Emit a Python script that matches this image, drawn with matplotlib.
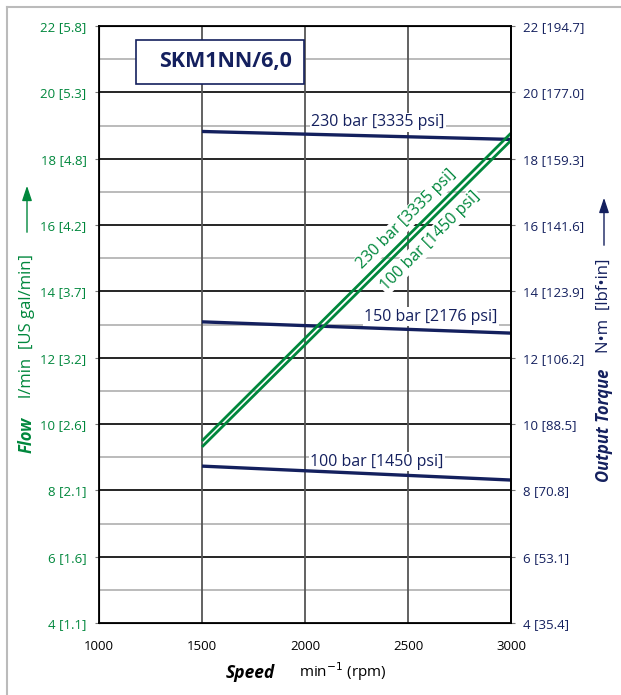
import numpy as np
import matplotlib.pyplot as plt
from matplotlib.patches import Rectangle
from matplotlib.lines import Line2D

plt.rcParams['font.family'] = ['Open Sans', 'DejaVu Sans']

GREEN = '#00873c'
NAVY = '#14205e'

# data
speed = [1500, 3000]
flow_230 = [9.49, 18.77]
flow_100 = [9.31, 18.55]
torque_230 = [18.82, 18.58]
torque_150 = [13.08, 12.74]
torque_100 = [8.73, 8.31]

left_ticks = [4, 6, 8, 10, 12, 14, 16, 18, 20, 22]
left_labels = ['4 [1.1]', '6 [1.6]', '8 [2.1]', '10 [2.6]', '12 [3.2]', '14 [3.7]',
               '16 [4.2]', '18 [4.8]', '20 [5.3]', '22 [5.8]']
right_labels = ['4 [35.4]', '6 [53.1]', '8 [70.8]', '10 [88.5]', '12 [106.2]', '14 [123.9]',
                '16 [141.6]', '18 [159.3]', '20 [177.0]', '22 [194.7]']
x_ticks = [1000, 1500, 2000, 2500, 3000]

fig = plt.figure(figsize=(6.21, 6.95), dpi=100)
ax = fig.add_axes([99/621, 1-623/695, 412/621, 597/695])
ax.set_xlim(1000, 3000)
ax.set_ylim(4, 22)

# grid
for y in range(5, 22, 2):
    ax.axhline(y, color='#b5b5b5', lw=1.3, zorder=1)
for y in range(6, 22, 2):
    ax.axhline(y, color='black', lw=1.2, zorder=1)
for x in [1500, 2000, 2500]:
    ax.axvline(x, color='#555555', lw=1.3, zorder=1)

for s in ax.spines.values():
    s.set_linewidth(1.3)
    s.set_zorder(6)

ax.set_xticks(x_ticks)
ax.set_xticklabels([str(x) for x in x_ticks], fontsize=9.5)
ax.tick_params(axis='x', length=0, pad=12)
ax.set_yticks(left_ticks)
ax.set_yticklabels(left_labels, fontsize=9.5, color=GREEN)
ax.tick_params(axis='y', length=3, color='#777777', pad=6)

ax2 = ax.twinx()
ax2.set_ylim(4, 22)
ax2.set_yticks(left_ticks)
ax2.set_yticklabels(right_labels, fontsize=9.5, color=NAVY)
ax2.tick_params(axis='y', length=3, color='#777777', pad=6)
ax2.spines['right'].set_linewidth(1.3)

# lines
ax.plot(speed, flow_230, color=GREEN, lw=2, zorder=5, solid_capstyle='butt')
ax.plot(speed, flow_100, color=GREEN, lw=2, zorder=5, solid_capstyle='butt')
ax.plot(speed, torque_230, color=NAVY, lw=2.4, zorder=4, solid_capstyle='butt')
ax.plot(speed, torque_150, color=NAVY, lw=2.4, zorder=4, solid_capstyle='butt')
ax.plot(speed, torque_100, color=NAVY, lw=2.4, zorder=4, solid_capstyle='butt')

box = dict(facecolor='white', edgecolor='none', pad=1)
ax.text(2354, 19.1, '230 bar [3335 psi]', color=NAVY, fontsize=11.5, ha='center', va='center', bbox=box, zorder=3)
ax.text(2612, 13.23, '150 bar [2176 psi]', color=NAVY, fontsize=11.5, ha='center', va='center', bbox=box, zorder=3)
ax.text(2350, 8.86, '100 bar [1450 psi]', color=NAVY, fontsize=11.5, ha='center', va='center', bbox=box, zorder=3)
ax.text(2495, 16.18, '230 bar [3335 psi]', color=GREEN, fontsize=11.5, ha='center', va='center',
        rotation=45, rotation_mode='anchor', bbox=box, zorder=3)
ax.text(2607, 15.52, '100 bar [1450 psi]', color=GREEN, fontsize=11.5, ha='center', va='center',
        rotation=45, rotation_mode='anchor', bbox=box, zorder=3)

# title box
ax.add_patch(Rectangle((1180, 20.25), 815, 1.33, facecolor='white', edgecolor=NAVY, lw=1.2, zorder=3))
ax.text(1612, 20.93, 'SKM1NN/6,0', color=NAVY, fontsize=15.5, fontweight='bold', ha='center', va='center', zorder=4)

# axis titles
fig.text(27/621, 1-435/695, 'Flow', color=GREEN, fontsize=12, fontweight='bold', style='italic',
         rotation=90, ha='center', va='center')
fig.text(27/621, 1-326/695, 'l/min  [US gal/min]', color=GREEN, fontsize=12,
         rotation=90, ha='center', va='center')
fig.add_artist(plt.Annotation('', xy=(27/621, 1-183/695), xytext=(27/621, 1-235/695),
                              xycoords='figure fraction',
                              arrowprops=dict(arrowstyle='-|>,head_length=0.9,head_width=0.3', color=GREEN, lw=1)))

fig.text(604/621, 1-425/695, 'Output Torque', color=NAVY, fontsize=12, fontweight='bold', style='italic',
         rotation=90, ha='center', va='center')
fig.text(604/621, 1-306/695, 'N•m  [lbf•in]', color=NAVY, fontsize=12,
         rotation=90, ha='center', va='center')
fig.add_artist(plt.Annotation('', xy=(604/621, 1-195/695), xytext=(604/621, 1-248/695),
                              xycoords='figure fraction',
                              arrowprops=dict(arrowstyle='-|>,head_length=0.9,head_width=0.3', color=NAVY, lw=1)))

fig.text(250/621, 1-673/695, 'Speed', fontsize=12.5, fontweight='bold', style='italic', ha='center', va='center')
fig.text(343/621, 1-672/695, 'min$^{-1}$ (rpm)', fontsize=11, ha='center', va='center')

# outer frame (left and top edges only)
fig.add_artist(Line2D([7/621, 7/621], [0, 1-7/695], transform=fig.transFigure, color='#bbbbbb', lw=1.5))
fig.add_artist(Line2D([7/621, 1], [1-7/695, 1-7/695], transform=fig.transFigure, color='#bbbbbb', lw=1.5))

fig.savefig('out.png', dpi=100)
